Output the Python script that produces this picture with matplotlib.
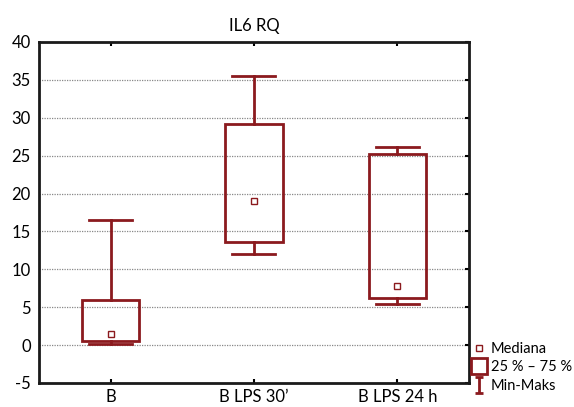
import matplotlib
matplotlib.use("Agg")
import matplotlib.pyplot as plt
from matplotlib.lines import Line2D
from matplotlib.patches import Rectangle
from matplotlib.path import Path

plt.rcParams['font.family'] = ['Lato', 'DejaVu Sans']
plt.rcParams['axes.unicode_minus'] = False

categories = ["B", "B LPS 30\u2019", "B LPS 24 h"]
q25 = [0.6, 13.6, 6.2]
q75 = [6.0, 29.2, 25.2]
medians = [1.5, 19.0, 7.8]
mins = [0.1, 12.0, 5.4]
maxs = [16.5, 35.5, 26.1]

COL = "#8B1A1E"
BOX_W = 0.4
CAP_W = 0.3

fig = plt.figure(figsize=(5.74, 4.07), dpi=100)
ax = fig.add_axes([0.068, 0.059, 0.749, 0.838])

for i, cat in enumerate(categories):
    ax.add_patch(Rectangle((i - BOX_W / 2, q25[i]), BOX_W, q75[i] - q25[i],
                           fill=False, edgecolor=COL, linewidth=2, zorder=3))
    ax.plot([i, i], [q75[i], maxs[i]], color=COL, lw=2, zorder=3)
    ax.plot([i, i], [mins[i], q25[i]], color=COL, lw=2, zorder=3)
    ax.plot([i - CAP_W / 2, i + CAP_W / 2], [maxs[i], maxs[i]], color=COL, lw=2, zorder=3)
    ax.plot([i - CAP_W / 2, i + CAP_W / 2], [mins[i], mins[i]], color=COL, lw=2, zorder=3)
    ax.plot(i, medians[i], marker="s", ms=4, mfc="white", mec=COL, mew=1, zorder=4)

ax.set_xlim(-0.5, 2.5)
ax.set_ylim(-5, 40)
ax.set_xticks(range(len(categories)))
ax.set_xticklabels(categories, fontsize=12)
ax.set_yticks(range(-5, 41, 5))
ax.tick_params(axis="y", labelsize=12, length=0, pad=6)
ax.tick_params(axis="x", direction="in", length=3, width=1.5, top=True, pad=4)
ax.tick_params(axis="y", which="both", right=True, direction="in")
ax.yaxis.set_tick_params(which="major", length=3, width=1.5, left=False, right=True)
ax.yaxis.grid(True, linestyle=(0, (1, 1)), color="#888888", linewidth=0.9)
ax.set_axisbelow(True)
for s in ax.spines.values():
    s.set_linewidth(2)
    s.set_color("#1a1a1a")

ax.set_title("IL6 RQ", fontsize=12, pad=8)

iverts = [(-0.5, 1), (0.5, 1), (0, 1), (0, -1), (-0.5, -1), (0.5, -1)]
icodes = [Path.MOVETO, Path.LINETO, Path.MOVETO, Path.LINETO, Path.MOVETO, Path.LINETO]
imarker = Path(iverts, icodes)
handles = [
    Line2D([], [], ls="none", marker="s", ms=4, mfc="white", mec=COL, mew=1),
    Line2D([], [], ls="none", marker="s", ms=11, mfc="white", mec=COL, mew=2),
    Line2D([], [], ls="none", marker=imarker, ms=12, mec=COL, mew=2),
]
fig.legend(handles, ["Mediana", "25 % \u2013 75 %", "Min-Maks"],
           loc="lower left", bbox_to_anchor=(0.825, 0.035), frameon=False,
           fontsize=10.5, handlelength=0.8, handletextpad=0.4, labelspacing=0.3,
           borderaxespad=0, borderpad=0)

fig.savefig("out.png", dpi=100)
